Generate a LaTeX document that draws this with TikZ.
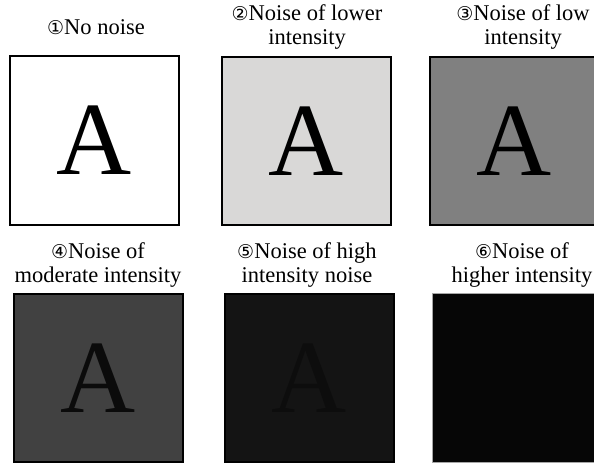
\documentclass[tikz,border=0pt]{standalone}
\usepackage{fontspec}
\setmainfont{Liberation Serif}
\newfontfamily\circfont{DejaVu Sans}
\definecolor{pI}{HTML}{FFFFFF}
\definecolor{pII}{HTML}{D9D8D7}
\definecolor{pIII}{HTML}{808080}
\definecolor{pIV}{HTML}{414141}
\definecolor{pV}{HTML}{141414}
\definecolor{pVI}{HTML}{060606}
\definecolor{aIV}{HTML}{0B0B0B}
\definecolor{aV}{HTML}{0D0D0D}
\newcommand{\cnum}[1]{{\circfont\fontsize{19}{19}\selectfont #1}}
\begin{document}
\begin{tikzpicture}[x=1pt,y=-1pt,
  panel/.style={draw=black,line width=2pt,minimum width=169pt,minimum height=168.5pt,inner sep=0pt},
  caption/.style={font=\fontsize{22.5}{24}\selectfont,align=center,inner sep=0pt,anchor=base},
  letter/.style={font=\fontsize{104}{104}\selectfont,inner sep=0pt}]
\useasboundingbox (0,0) rectangle (594,464);
\clip (0,0) rectangle (594,464);
% panels
\node[panel,fill=pI]   (p1) at (94.5,140.5) {};
\node[panel,fill=pII]  (p2) at (306,141) {};
\node[panel,fill=pIII] (p3) at (514,141) {};
\node[panel,fill=pIV]  (p4) at (98,378) {};
\node[panel,fill=pV]   (p5) at (309,378) {};
\node[panel,fill=pVI,draw=gray!70,line width=0.8pt] (p6) at (517,378) {};
% letters
\node[letter] (a1) at (p1.center) {A};
\node[letter] (a2) at (p2.center) {A};
\node[letter] (a3) at (p3.center) {A};
\node[letter,text=aIV] (a4) at (p4.center) {A};
\node[letter,text=aV] (a5) at (p5.center) {A};
% captions
\node[caption] (c1) at (96,34) {\cnum{①}No noise};
\node[caption] (c2) at (307,44) {\cnum{②}Noise of lower\\intensity};
\node[caption] (c3) at (523,44) {\cnum{③}Noise of low\\intensity};
\node[caption] (c4) at (98,282) {\cnum{④}Noise of\\moderate intensity};
\node[caption] (c5) at (307,282) {\cnum{⑤}Noise of high\\intensity noise};
\node[caption] (c6) at (522,282) {\cnum{⑥}Noise of\\higher intensity};
\end{tikzpicture}
\end{document}
